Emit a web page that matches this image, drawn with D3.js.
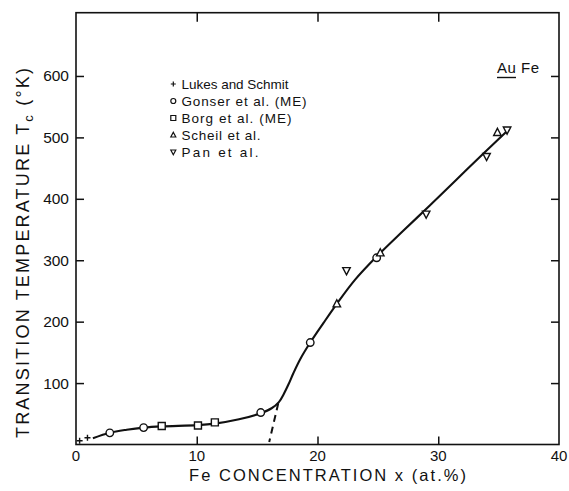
<!DOCTYPE html>
<html>
<head>
<meta charset="utf-8">
<script src="https://cdn.jsdelivr.net/npm/d3@7/dist/d3.min.js"></script>
<style>
  html, body { margin: 0; padding: 0; background: #fff; }
  svg { display: block; font-family: "Liberation Sans", Arial, sans-serif; }
</style>
</head>
<body>
<svg id="chart" width="569" height="491"></svg>
<script>
// Au–Fe transition temperature vs Fe concentration

const xTickValues = [0, 10, 20, 30, 40];
const xTickLabels = ["0", "10", "20", "30", "40"];
const yTickValues = [100, 200, 300, 400, 500, 600];
const yTickLabels = ["100", "200", "300", "400", "500", "600"];

// Measurements (x in at.% Fe, Tc in K)
const lukesX  = [0.3, 0.95];
const lukesT  = [6, 11];
const gonserX = [2.8, 5.6, 15.3, 19.4, 24.9];
const gonserT = [19, 27.5, 52, 166, 304];
const borgX   = [7.1, 10.1, 11.5];
const borgT   = [30, 31, 36];
const scheilX = [21.6, 25.2, 34.9];
const scheilT = [229, 312, 508];
const panX    = [22.4, 29.0, 34.0, 35.7];
const panT    = [283, 375, 469, 512];

// Guide curve through the data
const curveX = [1.4, 2.8, 4.2, 5.6, 7.1, 10.1, 11.5, 13.5, 15.3, 16.2, 16.8, 17.2, 17.6, 18.0, 18.6, 19.4, 20.5, 21.6, 23.1, 24.9, 27.1, 29.3, 31.5, 33.7, 35.9];
const curveT = [10, 19, 24, 27.5, 29.5, 31.5, 34, 41, 51, 59, 69, 82, 98, 116, 140, 166, 198, 229, 268, 306, 348, 389, 431, 473, 514];

// Dashed extrapolation of the steep branch
const dashX = [16.75, 16.0];
const dashT = [67, 4];

const legendNames = ["Lukes and Schmit", "Gonser et al. (ME)", "Borg et al. (ME)", "Scheil et al.", "Pan et al."];
const legendSymbols = ["plus", "circle", "square", "up", "down"];
const legendWidths = [107, 125, 110, 79, 77];

const svg = d3.select("#chart");
const ink = "#111";

const x = d3.scaleLinear().domain([0, 40]).range([76, 559]);
const y = d3.scaleLinear().domain([0, 703]).range([444.5, 12.7]);

// frame
svg.append("rect")
  .attr("x", x(0)).attr("y", y(703))
  .attr("width", x(40) - x(0)).attr("height", y(0) - y(703))
  .attr("fill", "none").attr("stroke", ink).attr("stroke-width", 1.6);

// inward ticks on all four sides
const inner = xTickValues.filter(v => v > 0 && v < 40);
const bottomAxis = d3.axisBottom(x).tickValues(inner).tickSize(-8).tickFormat("");
const topAxis = d3.axisTop(x).tickValues(inner).tickSize(-9).tickFormat("");
const leftAxis = d3.axisLeft(y).tickValues(yTickValues).tickSize(-8).tickFormat("");
const rightAxis = d3.axisRight(y).tickValues(yTickValues).tickSize(-8).tickFormat("");

function styleAxis(g) {
  g.select(".domain").remove();
  g.selectAll(".tick line").attr("stroke", ink).attr("stroke-width", 1.5);
}
svg.append("g").attr("transform", `translate(0,${y(0)})`).call(bottomAxis).call(styleAxis);
svg.append("g").attr("transform", `translate(0,${y(703)})`).call(topAxis).call(styleAxis);
svg.append("g").attr("transform", `translate(${x(0)},0)`).call(leftAxis).call(styleAxis);
svg.append("g").attr("transform", `translate(${x(40)},0)`).call(rightAxis).call(styleAxis);

// tick labels
svg.append("g").selectAll("text")
  .data(xTickValues)
  .join("text")
  .attr("x", d => x(d)).attr("y", 461)
  .attr("text-anchor", "middle")
  .attr("font-size", 15).attr("fill", ink)
  .text((d, i) => xTickLabels[i]);

svg.append("g").selectAll("text")
  .data(yTickValues)
  .join("text")
  .attr("x", 69).attr("y", d => y(d) + 5.5)
  .attr("text-anchor", "end")
  .attr("font-size", 15.5).attr("fill", ink)
  .text((d, i) => yTickLabels[i]);

// axis titles
svg.append("text")
  .attr("x", 189).attr("y", 481)
  .attr("font-size", 16.5).attr("fill", ink)
  .attr("textLength", 277).attr("lengthAdjust", "spacing")
  .text("Fe CONCENTRATION x (at.%)");

const yTitle = svg.append("text")
  .attr("transform", "translate(29,438) rotate(-90)")
  .attr("font-size", 18).attr("fill", ink)
  .attr("textLength", 370).attr("lengthAdjust", "spacing");
yTitle.append("tspan").text("TRANSITION TEMPERATURE T");
yTitle.append("tspan").attr("font-size", 13).attr("dy", 4).text("c");
yTitle.append("tspan").attr("dy", -4).text(" (°K)");

// alloy label
svg.append("text")
  .attr("x", 497).attr("y", 73)
  .attr("font-size", 15).attr("fill", ink)
  .attr("textLength", 42).attr("lengthAdjust", "spacing")
  .text("Au Fe");
svg.append("line")
  .attr("x1", 497).attr("x2", 516).attr("y1", 77.5).attr("y2", 77.5)
  .attr("stroke", ink).attr("stroke-width", 1.4);

// curves
const line = d3.line()
  .x(d => x(d[0])).y(d => y(d[1]))
  .curve(d3.curveCatmullRom.alpha(0.5));

svg.append("path")
  .datum(curveX.map((v, i) => [v, curveT[i]]))
  .attr("d", line)
  .attr("fill", "none").attr("stroke", ink).attr("stroke-width", 2.1);

svg.append("path")
  .datum(dashX.map((v, i) => [v, dashT[i]]))
  .attr("d", d3.line().x(d => x(d[0])).y(d => y(d[1])))
  .attr("fill", "none").attr("stroke", ink).attr("stroke-width", 2)
  .attr("stroke-dasharray", "7,5");

// marker shapes
function symbolPath(kind, s) {
  const h = s / 2;
  switch (kind) {
    case "plus": return `M${-h},0H${h}M0,${-h}V${h}`;
    case "square": return `M${-h},${-h}H${h}V${h}H${-h}Z`;
    case "up": return `M0,${-h * 1.1}L${h},${h * 0.8}L${-h},${h * 0.8}Z`;
    case "down": return `M0,${h * 1.1}L${h},${-h * 0.8}L${-h},${-h * 0.8}Z`;
    default: return null;
  }
}

function drawSeries(xs, ts, kind, size) {
  const g = svg.append("g");
  const pts = xs.map((v, i) => [v, ts[i]]);
  if (kind === "circle") {
    g.selectAll("circle").data(pts).join("circle")
      .attr("cx", d => x(d[0])).attr("cy", d => y(d[1]))
      .attr("r", size / 2)
      .attr("fill", "#fff").attr("stroke", ink).attr("stroke-width", 1.4);
  } else {
    g.selectAll("path").data(pts).join("path")
      .attr("transform", d => `translate(${x(d[0])},${y(d[1])})`)
      .attr("d", symbolPath(kind, size))
      .attr("fill", kind === "plus" ? "none" : "#fff")
      .attr("stroke", ink).attr("stroke-width", 1.4);
  }
}

drawSeries(lukesX, lukesT, "plus", 6);
drawSeries(gonserX, gonserT, "circle", 7.5);
drawSeries(borgX, borgT, "square", 7);
drawSeries(scheilX, scheilT, "up", 7.5);
drawSeries(panX, panT, "down", 7.5);

// legend
const legendY = [84, 101, 118, 135, 152];
const leg = svg.append("g");
legendNames.forEach((name, i) => {
  const cy = legendY[i];
  const kind = legendSymbols[i];
  if (kind === "circle") {
    leg.append("circle").attr("cx", 173.3).attr("cy", cy).attr("r", 2.5)
      .attr("fill", "#fff").attr("stroke", ink).attr("stroke-width", 1.2);
  } else {
    leg.append("path")
      .attr("transform", `translate(173.3,${cy})`)
      .attr("d", symbolPath(kind, 5))
      .attr("fill", "none").attr("stroke", ink).attr("stroke-width", 1.2);
  }
  leg.append("text")
    .attr("x", 181.5).attr("y", cy + 5)
    .attr("font-size", 13.5).attr("fill", ink)
    .attr("textLength", legendWidths[i]).attr("lengthAdjust", "spacing")
    .text(name);
});
</script>
</body>
</html>
